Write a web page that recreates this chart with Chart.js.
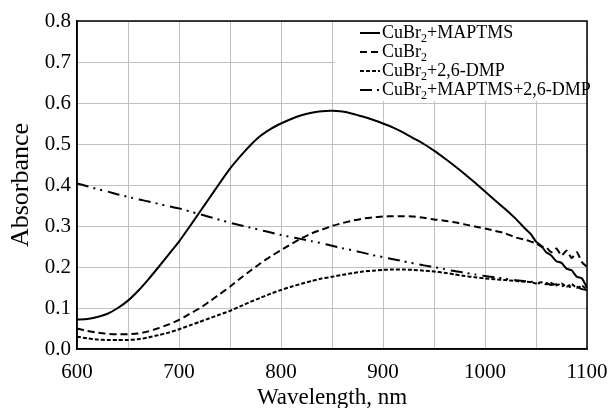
<!DOCTYPE html>
<html>
<head>
<meta charset="utf-8">
<script src="https://cdn.jsdelivr.net/npm/chart.js@4/dist/chart.umd.min.js"></script>
<style>
  html, body { margin: 0; padding: 0; background: #fff; }
  #chart { display: block; }
</style>
</head>
<body>
<canvas id="chart" width="613" height="408"></canvas>
<script>
// wavelengths, nm (10 nm steps, then 5 nm where the spectra get noisy)
const wavelengths = [
  600, 610, 620, 630, 640, 650, 660, 670, 680, 690,
  700, 710, 720, 730, 740, 750, 760, 770, 780, 790,
  800, 810, 820, 830, 840, 850, 860, 870, 880, 890,
  900, 910, 920, 930, 940, 950, 960, 970, 980, 990,
  1000, 1010, 1020, 1030, 1040, 1045, 1050, 1055, 1060, 1065,
  1070, 1075, 1080, 1085, 1090, 1095, 1100
];

const cubrMaptms = [
  0.072, 0.073, 0.078, 0.086, 0.100, 0.118, 0.142, 0.170, 0.200, 0.231,
  0.262, 0.297, 0.333, 0.369, 0.405, 0.440, 0.470, 0.497, 0.520, 0.537,
  0.550, 0.561, 0.570, 0.576, 0.580, 0.581, 0.579, 0.574, 0.567, 0.559,
  0.550, 0.540, 0.528, 0.514, 0.500, 0.484, 0.466, 0.447, 0.427, 0.406,
  0.384, 0.362, 0.341, 0.318, 0.292, 0.280, 0.262, 0.252, 0.236, 0.228,
  0.214, 0.210, 0.196, 0.192, 0.176, 0.172, 0.150
];

const cubr = [
  0.050, 0.044, 0.040, 0.037, 0.036, 0.036, 0.038, 0.043, 0.051, 0.060,
  0.071, 0.085, 0.099, 0.116, 0.134, 0.152, 0.172, 0.191, 0.209, 0.226,
  0.241, 0.256, 0.270, 0.282, 0.291, 0.300, 0.307, 0.313, 0.318, 0.321,
  0.323, 0.324, 0.324, 0.323, 0.320, 0.316, 0.313, 0.309, 0.304, 0.299,
  0.294, 0.288, 0.282, 0.272, 0.266, 0.262, 0.258, 0.250, 0.248, 0.236,
  0.245, 0.228, 0.240, 0.222, 0.236, 0.212, 0.200
];

const cubrDmp = [
  0.030, 0.026, 0.023, 0.022, 0.022, 0.022, 0.024, 0.028, 0.034, 0.040,
  0.048, 0.057, 0.066, 0.075, 0.084, 0.093, 0.104, 0.115, 0.125, 0.135,
  0.144, 0.152, 0.159, 0.166, 0.172, 0.176, 0.181, 0.185, 0.189, 0.191,
  0.193, 0.194, 0.194, 0.193, 0.191, 0.189, 0.186, 0.182, 0.178, 0.175,
  0.172, 0.170, 0.168, 0.166, 0.164, 0.163, 0.160, 0.163, 0.158, 0.161,
  0.155, 0.160, 0.152, 0.158, 0.149, 0.154, 0.145
];

const cubrMaptmsDmp = [
  0.404, 0.397, 0.390, 0.384, 0.377, 0.371, 0.365, 0.360, 0.354, 0.348,
  0.343, 0.336, 0.329, 0.322, 0.315, 0.308, 0.302, 0.296, 0.290, 0.284,
  0.278, 0.273, 0.268, 0.263, 0.258, 0.252, 0.246, 0.241, 0.235, 0.229,
  0.224, 0.219, 0.214, 0.209, 0.204, 0.200, 0.195, 0.190, 0.186, 0.182,
  0.178, 0.175, 0.171, 0.168, 0.165, 0.164, 0.162, 0.160, 0.161, 0.156,
  0.158, 0.153, 0.155, 0.150, 0.152, 0.146, 0.144
];

const seriesLabels = [
  "CuBr₂+MAPTMS",
  "CuBr₂",
  "CuBr₂+2,6-DMP",
  "CuBr₂+MAPTMS+2,6-DMP"
];
const seriesDash = [[], [7, 4], [4, 2], [12, 5, 2, 5, 2, 6]];

const serif = "'Liberation Serif', 'Times New Roman', serif";

function toPoints(values) {
  return wavelengths.map((w, i) => ({ x: w, y: values[i] }));
}

// frame around the plot (top and right sides)
const frame = {
  id: "frame",
  afterDraw(chart) {
    const { ctx, chartArea } = chart;
    ctx.save();
    ctx.strokeStyle = "#000";
    ctx.lineWidth = 1.5;
    ctx.strokeRect(chartArea.left, chartArea.top, chartArea.width, chartArea.height);
    ctx.restore();
  }
};

// legend inside the plot, top right, with subscript 2
const insideLegend = {
  id: "insideLegend",
  afterDatasetsDraw(chart) {
    const { ctx, chartArea } = chart;
    const x0 = chartArea.right - 252;
    const y0 = chartArea.top;
    ctx.save();
    ctx.fillStyle = "#fff";
    ctx.fillRect(x0, y0 + 1, 251, 79);
    chart.data.datasets.forEach((ds, i) => {
      const y = y0 + 12 + i * 19;
      ctx.strokeStyle = "#000";
      ctx.lineWidth = 2;
      ctx.setLineDash(ds.borderDash || []);
      ctx.beginPath();
      ctx.moveTo(x0 + 25, y);
      ctx.lineTo(x0 + 45, y);
      ctx.stroke();
      ctx.setLineDash([]);

      const parts = ds.label.split("₂");
      let x = x0 + 47;
      ctx.fillStyle = "#000";
      ctx.textBaseline = "middle";
      ctx.font = "18px " + serif;
      ctx.fillText(parts[0], x, y);
      x += ctx.measureText(parts[0]).width;
      ctx.font = "12px " + serif;
      ctx.fillText("2", x, y + 6);
      x += ctx.measureText("2").width;
      ctx.font = "18px " + serif;
      ctx.fillText(parts[1], x, y);
    });
    ctx.restore();
  }
};

new Chart(document.getElementById("chart"), {
  type: "line",
  data: {
    datasets: seriesLabels.map((label, i) => ({
      label: label,
      data: toPoints([cubrMaptms, cubr, cubrDmp, cubrMaptmsDmp][i]),
      borderColor: "#000",
      borderWidth: 2,
      borderDash: seriesDash[i],
      pointRadius: 0,
      tension: 0.2,
      fill: false
    }))
  },
  options: {
    responsive: false,
    animation: false,
    layout: { padding: { top: 21, right: 26, bottom: 0, left: 0 } },
    plugins: {
      legend: { display: false },
      tooltip: { enabled: false }
    },
    scales: {
      x: {
        type: "linear",
        min: 600,
        max: 1100,
        afterFit(scale) {
          scale.height = 59;
          scale.paddingRight = 0;
        },
        ticks: {
          stepSize: 50,
          autoSkip: false,
          maxRotation: 0,
          padding: 11,
          color: "#000",
          font: { family: serif, size: 21 },
          callback: (v) => (v % 100 === 0 ? String(v) : "")
        },
        grid: { color: "#c0c0c0", lineWidth: 1, drawTicks: false },
        border: { display: true, color: "#000", width: 1.5 },
        title: {
          display: true,
          text: "Wavelength, nm",
          color: "#000",
          font: { family: serif, size: 23, lineHeight: 0.8 },
          padding: { top: 0, bottom: 0.5 }
        }
      },
      y: {
        min: 0,
        max: 0.8,
        afterFit(scale) { scale.width = 77; },
        ticks: {
          stepSize: 0.1,
          padding: 6,
          color: "#000",
          font: { family: serif, size: 21 },
          callback: (v) => v.toFixed(1)
        },
        grid: { color: "#c0c0c0", lineWidth: 1, drawTicks: false },
        border: { display: true, color: "#000", width: 1.5 },
        title: {
          display: true,
          text: "Absorbance",
          color: "#000",
          font: { family: serif, size: 26, lineHeight: 1 },
          padding: { top: 8, bottom: 0 }
        }
      }
    }
  },
  plugins: [insideLegend, frame]
});
</script>
</body>
</html>
